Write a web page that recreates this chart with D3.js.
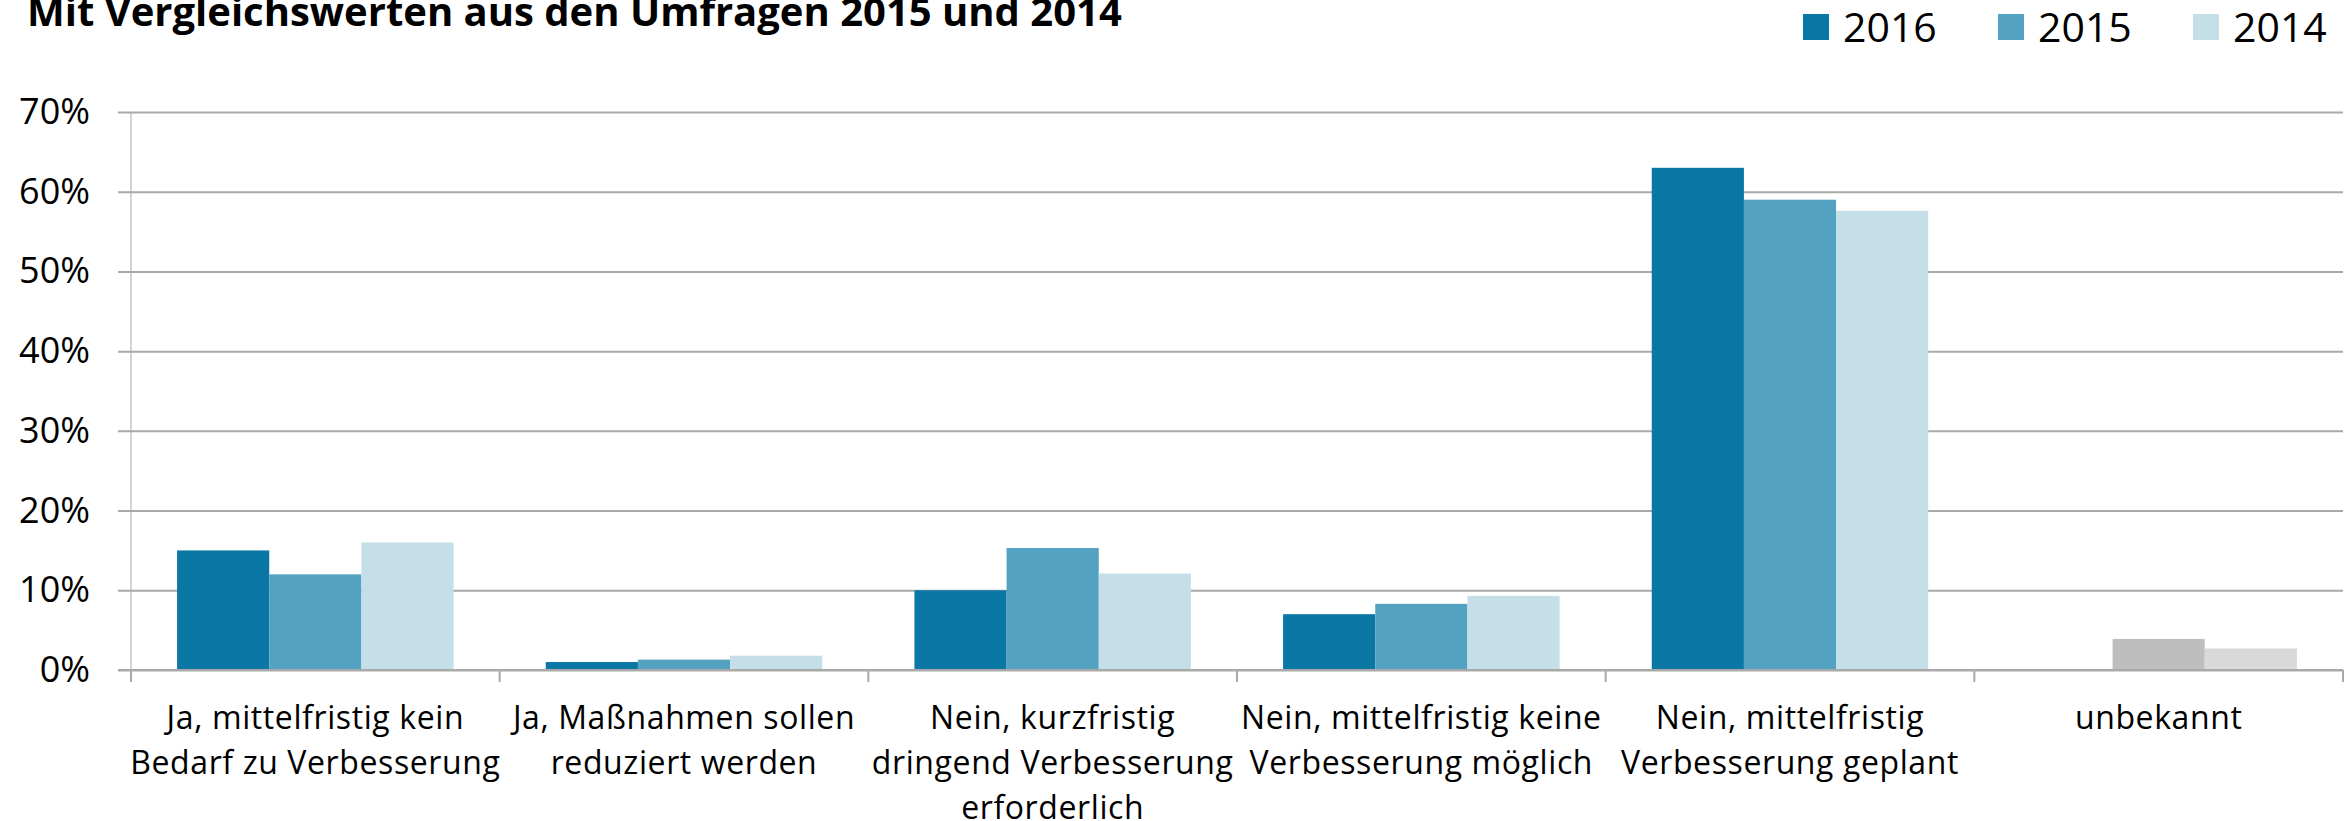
<!DOCTYPE html>
<html lang="de">
<head>
<meta charset="utf-8">
<title>Umfrage 2016</title>
<script src="https://d3js.org/d3.v7.min.js"></script>
<style>
  body { margin: 0; background: #fff; }
  svg { display: block; font-family: "Open Sans", sans-serif; }
  .tick-label { font-size: 36px; fill: #000; }
  .cat-label { font-size: 32px; letter-spacing: 0.6px; fill: #000; }
  .legend-label { font-size: 41px; fill: #000; }
</style>
</head>
<body>
<div id="chart"></div>
<script>
// data
var categories = [
  "Ja, mittelfristig kein\nBedarf zu Verbesserung",
  "Ja, Maßnahmen sollen\nreduziert werden",
  "Nein, kurzfristig\ndringend Verbesserung\nerforderlich",
  "Nein, mittelfristig keine\nVerbesserung möglich",
  "Nein, mittelfristig\nVerbesserung geplant",
  "unbekannt"
];
var years = ["2016", "2015", "2014"];
var values2016 = [15, 1, 10, 7, 63, null];
var values2015 = [12, 1.3, 15.3, 8.3, 59, 3.9];
var values2014 = [16, 1.8, 12.1, 9.3, 57.6, 2.7];
var yTicks = [0, 10, 20, 30, 40, 50, 60, 70];
var title = "Mit Vergleichswerten aus den Umfragen 2015 und 2014";

var colors = {"2016": "#0a77a4", "2015": "#53a2c2", "2014": "#c5dfe9"};
var greyColors = {"2016": "#9e9e9e", "2015": "#bebebe", "2014": "#d9d9d9"};
var gridColor = "#a9a9a9";

var series = {"2016": values2016, "2015": values2015, "2014": values2014};

var W = 2351, H = 821;
var m = {top: 112, right: 8, bottom: 151, left: 131};

var svg = d3.select("#chart").append("svg")
  .attr("width", W)
  .attr("height", H);

var x = d3.scaleBand()
  .domain(categories)
  .range([m.left, W - m.right])
  .paddingInner(0)
  .paddingOuter(0);

var xs = d3.scaleBand()
  .domain(years)
  .range([0, x.bandwidth()])
  .paddingInner(0)
  .paddingOuter(0.5);

var y = d3.scaleLinear()
  .domain([0, 70])
  .range([H - m.bottom, m.top]);

// gridlines + y labels
var gridLeft = m.left - 13;
var yAxis = svg.append("g")
  .attr("transform", "translate(" + gridLeft + ",0)")
  .call(d3.axisLeft(y)
    .tickValues(yTicks)
    .tickSize(-(W - m.right - gridLeft))
    .tickPadding(28)
    .tickFormat(d => d + "%"))
  .attr("font-family", null)
  .attr("font-size", null);
yAxis.select(".domain").remove();
yAxis.selectAll(".tick line")
  .attr("stroke", gridColor)
  .attr("stroke-width", 2);
yAxis.selectAll(".tick text")
  .attr("class", "tick-label");

// left axis line
svg.append("line")
  .attr("x1", m.left).attr("x2", m.left)
  .attr("y1", y(70)).attr("y2", y(0) + 12)
  .attr("stroke", gridColor)
  .attr("stroke-width", 1);

// bars
var rows = [];
categories.forEach(function(c, i) {
  years.forEach(function(yr) {
    var v = series[yr][i];
    if (v != null) rows.push({cat: c, year: yr, value: v});
  });
});

svg.append("g")
  .selectAll("rect")
  .data(rows)
  .join("rect")
  .attr("x", d => x(d.cat) + xs(d.year))
  .attr("y", d => y(d.value))
  .attr("width", xs.bandwidth())
  .attr("height", d => y(0) - y(d.value))
  .attr("fill", d => d.cat === "unbekannt" ? greyColors[d.year] : colors[d.year]);

// x axis baseline and category ticks
var xAxis = svg.append("g")
  .attr("transform", "translate(0," + y(0) + ")");
xAxis.append("line")
  .attr("x1", gridLeft).attr("x2", W - m.right)
  .attr("stroke", gridColor)
  .attr("stroke-width", 2);
var bounds = categories.map(c => x(c)).concat([x.range()[1]]);
xAxis.selectAll(".cat-tick")
  .data(bounds)
  .join("line")
  .attr("class", "cat-tick")
  .attr("x1", d => d).attr("x2", d => d)
  .attr("y1", 0).attr("y2", 12)
  .attr("stroke", gridColor)
  .attr("stroke-width", 2);

// category labels
var lineH = 45;
svg.append("g")
  .selectAll("text")
  .data(categories)
  .join("text")
  .attr("class", "cat-label")
  .attr("text-anchor", "middle")
  .attr("transform", d => "translate(" + (x(d) + x.bandwidth() / 2) + "," + (y(0) + 59) + ")")
  .selectAll("tspan")
  .data(d => d.split("\n"))
  .join("tspan")
  .attr("x", 0)
  .attr("y", (d, i) => i * lineH)
  .text(d => d);

// title (top cut off as in the original)
svg.append("text")
  .attr("x", 27)
  .attr("y", 26)
  .attr("font-size", 40)
  .attr("font-weight", "bold")
  .text(title);

// legend
var legend = svg.append("g")
  .selectAll("g")
  .data(years)
  .join("g")
  .attr("transform", (d, i) => "translate(" + (1803 + i * 195) + ",14)");
legend.append("rect")
  .attr("width", 26)
  .attr("height", 26)
  .attr("fill", d => colors[d]);
legend.append("text")
  .attr("class", "legend-label")
  .attr("x", 40)
  .attr("y", 28)
  .text(d => d);
</script>
</body>
</html>
